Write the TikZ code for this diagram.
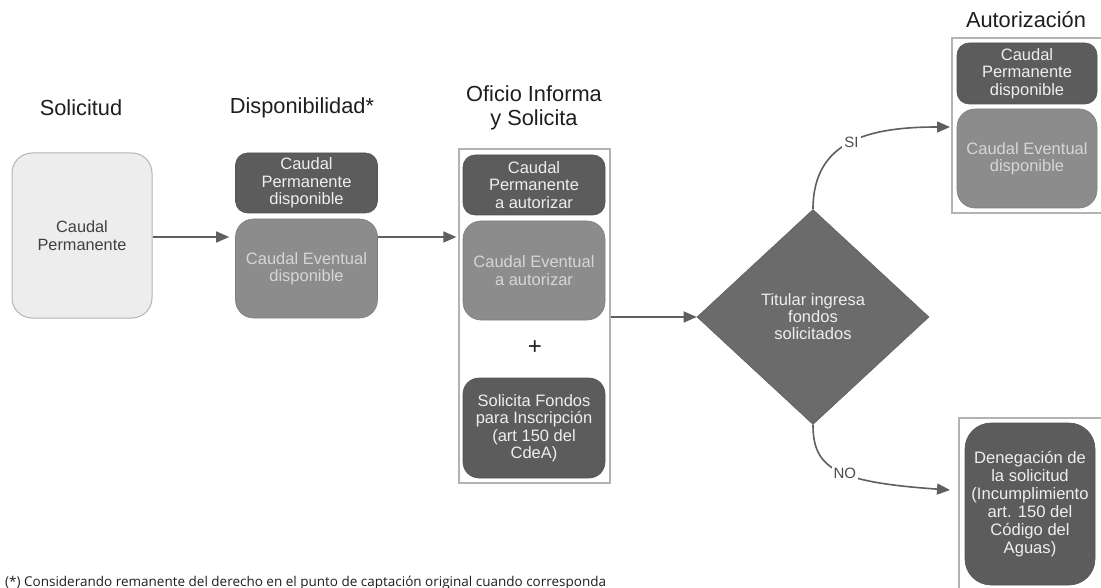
\documentclass[tikz,border=0pt]{standalone}
\usepackage{fontspec}
\setmainfont{Liberation Sans}
\newfontfamily\notefont{Open Sans}
\usetikzlibrary{arrows.meta,shapes.geometric}
\definecolor{dk}{HTML}{5C5C5C}
\definecolor{md}{HTML}{8C8C8C}
\definecolor{lt}{HTML}{EDEDED}
\definecolor{ltb}{HTML}{B5B5B5}
\definecolor{dia}{HTML}{6B6B6B}
\definecolor{dkt}{HTML}{EEEEEE}
\definecolor{mdt}{HTML}{D6D6D6}
\definecolor{arr}{HTML}{5F5F5F}
\definecolor{cb}{HTML}{B3B3B3}
\definecolor{ttl}{HTML}{1E1E1E}
\tikzset{
  title/.style={font=\fontsize{21.8}{24}\selectfont, text=ttl, align=center},
  darkbox/.style={rounded corners=12pt, fill=dk, draw=dk!90!black, line width=0.6pt, text=dkt, align=center, inner sep=0pt, font=\fontsize{16.5}{17.5}\selectfont},
  medbox/.style={rounded corners=18pt, fill=md, draw=md!90!black, line width=0.6pt, text=mdt, align=center, inner sep=0pt, font=\fontsize{16.5}{17.5}\selectfont},
  container/.style={draw=cb, line width=1.3pt, fill=white},
  link/.style={draw=arr, line width=1.6pt, -{Triangle[length=13pt,width=11pt]}},
  lbl/.style={fill=white, text=ttl!80, inner sep=2pt, font=\fontsize{15}{17}\selectfont}
}
\begin{document}
\begin{tikzpicture}[x=1pt,y=-1pt]
\clip (0,0) rectangle (1101,588);
\fill[white] (0,0) rectangle (1101,588);

% titles
\node[title] (tsol) at (81,108) {Solicitud};
\node[title] (tdis) at (302,108) {Disponibilidad*};
\node[title] (tofi) at (534,108) {Oficio Informa\\y Solicita};
\node[title] (taut) at (1026,20) {Autorización};

% Solicitud
\node[rounded corners=20pt, fill=lt, draw=ltb, line width=1pt, minimum width=140pt, minimum height=165pt, align=center, text=ttl!85, font=\fontsize{16.3}{17.5}\selectfont] (sol) at (82,235.5) {Caudal\\Permanente};

% Disponibilidad
\node[darkbox, minimum width=142pt, minimum height=60pt] (dp) at (306.5,183) {Caudal\\Permanente\\disponible};
\node[medbox, minimum width=142pt, minimum height=99pt] (de) at (306.5,268.5) {Caudal Eventual\\disponible};

% Oficio container
\node[container, minimum width=151pt, minimum height=334pt, inner sep=0pt] (ofc) at (534.5,316) {};
\node[darkbox, minimum width=142pt, minimum height=60pt] (op) at (534,185) {Caudal\\Permanente\\a autorizar};
\node[medbox, minimum width=142pt, minimum height=99pt] (oe) at (534,270.5) {Caudal Eventual\\a autorizar};
\node[font=\fontsize{24}{26}\selectfont, text=ttl] (plus) at (535,348) {+};
\node[darkbox, rounded corners=16pt, minimum width=142pt, minimum height=100pt] (of) at (534,428) {Solicita Fondos\\para Inscripción\\(art 150 del\\CdeA)};

% Diamond
\node[diamond, fill=dia, draw=dia!90!black, line width=0.6pt, minimum width=232pt, minimum height=215pt, inner sep=0pt, align=center, text=dkt, font=\fontsize{16.5}{17}\selectfont] (dec) at (813,317) {Titular ingresa\\fondos\\solicitados};

% Autorizacion container
\node[container, minimum width=150pt, minimum height=175pt, inner sep=0pt] (auc) at (1027,125.5) {};
\node[darkbox, minimum width=140pt, minimum height=61pt] (ap) at (1027,73.5) {Caudal\\Permanente\\disponible};
\node[medbox, minimum width=140pt, minimum height=99pt] (ae) at (1027,158.5) {Caudal Eventual\\disponible};

% Denegacion container
\node[container, minimum width=144pt, minimum height=180pt, inner sep=0pt] (dnc) at (1031,508) {};
\node[darkbox, rounded corners=26pt, minimum width=130pt, minimum height=162pt, font=\fontsize{16.6}{18}\selectfont, text=dkt] (dn) at (1030,504) {Denegación de\\la solicitud\\(Incumplimiento\\art. 150 del\\Código del\\Aguas)};

% footnote
\node[anchor=base west, inner sep=0pt, font=\notefont\fontsize{13.5}{15}\selectfont, text=ttl] (note) at (5,586) {(*) Considerando remanente del derecho en el punto de captación original cuando corresponda};

% connectors
\coordinate (a1) at (sol.east |- 0,237);
\coordinate (a1e) at (de.west |- 0,237);
\draw[link] (a1) -- ([xshift=-6pt]a1e);
\coordinate (a2) at (de.east |- 0,237);
\coordinate (a2e) at (ofc.west |- 0,237);
\draw[link] (a2) -- ([xshift=-2pt]a2e);
\coordinate (a3) at (ofc.east |- dec.west);
\draw[link] (a3) -- (dec.west);
\coordinate (sie) at (950,127);
\draw[link] (dec.north) .. controls (813,140) and (870,127) .. (sie) node[lbl, pos=0.5] (si) {SI};
\coordinate (noe) at (950,490);
\draw[link] (dec.south) .. controls (813,468) and (835,482) .. (noe) node[lbl, pos=0.55] (no) {NO};
\end{tikzpicture}
\end{document}
